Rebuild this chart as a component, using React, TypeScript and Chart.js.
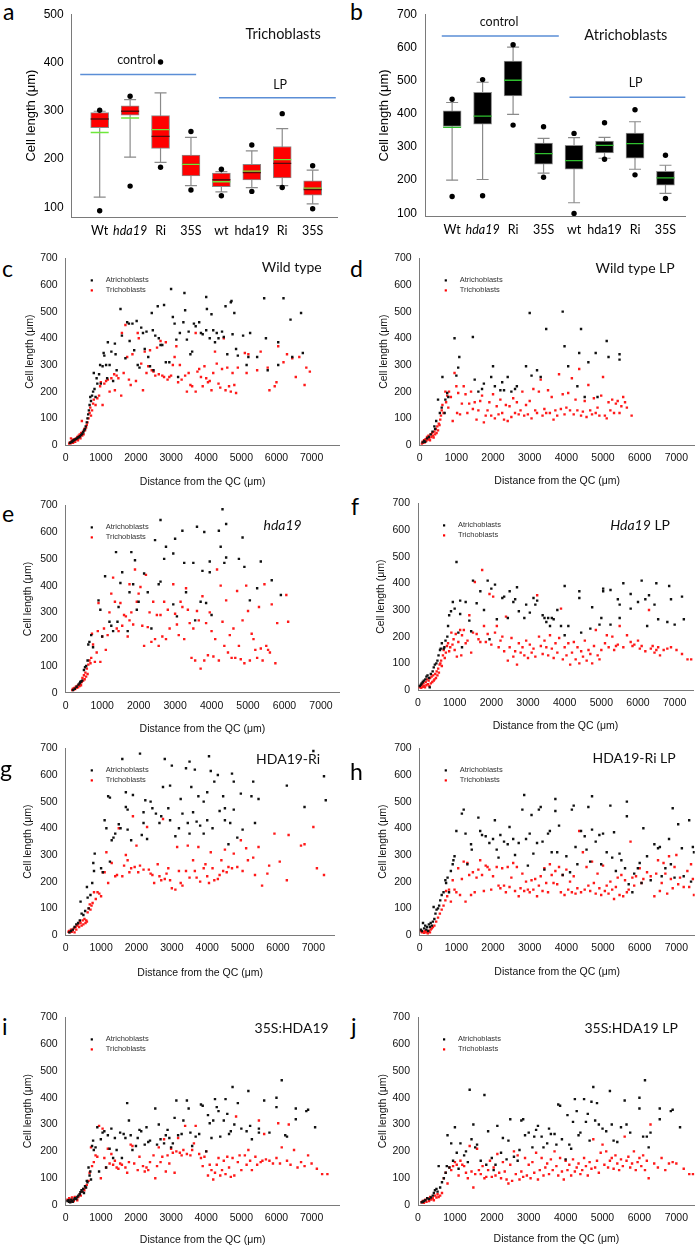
import React, { useEffect, useRef } from 'react';
import { Chart, registerables } from 'chart.js';

Chart.register(...registerables);

const SANS = '"Liberation Sans", Arial, sans-serif';
const CAL = 'Lato, "Open Sans", sans-serif';

// ---------- Box plots (a, b) ----------
const boxCategories = ['Wt', 'hda19', 'Ri', '35S', 'wt', 'hda19', 'Ri', '35S'];
const italicCategory = [false, true, false, false, false, false, false, false];
const trichoTicks = [100, 200, 300, 400, 500];
const atrichoTicks = [100, 200, 300, 400, 500, 600, 700];

// a: Trichoblasts
const trMin = [121, 204, 193, 145, 132, 141, 145, 107];
const trQ1 = [265, 291, 222, 165, 143, 157, 161, 125];
const trMedian = [283, 299, 247, 189, 157, 172, 191, 137];
const trQ3 = [296, 310, 290, 208, 171, 189, 226, 155];
const trMax = [299, 323, 337, 245, 174, 217, 263, 177];
const trMean = [255, 285, 261, 189, 153, 175, 199, 140];
const trOutHigh = [301, 330, 401, 257, 179, 229, 294, 186];
const trOutLow = [93, 144, 183, 136, 124, 133, 141, 97];
const trControlSpan = [-0.64, 3.17];
const trControlLevel = 375;
const trLpSpan = [3.92, 7.76];
const trLpLevel = 327;

// b: Atrichoblasts
const atMin = [200, 202, 398, 221, 132, 266, 233, 160];
const atQ1 = [362, 369, 454, 248, 233, 282, 266, 185];
const atMedian = [359, 393, 501, 280, 259, 305, 310, 207];
const atQ3 = [409, 465, 559, 312, 305, 318, 342, 227];
const atMax = [434, 495, 601, 326, 328, 329, 376, 245];
const atOutHigh = [444, 503, 608, 361, 341, 373, 412, 275];
const atOutLow = [151, 153, 366, 209, 100, 263, 216, 145];
const atControlSpan = [-0.34, 3.5];
const atControlLevel = 634;
const atLpSpan = [3.85, 7.66];
const atLpLevel = 450;

// ---------- Scatter plots (c - j) ----------
const scatterXTicks = [0, 1000, 2000, 3000, 4000, 5000, 6000, 7000];
const scatterYTicks = [0, 100, 200, 300, 400, 500, 600, 700];

// c: Wild type
const cAtri = [[120,8],[150,10],[180,12],[200,15],[230,18],[260,20],[290,22],[320,25],[350,28],[380,30],[410,33],[440,38],[470,42],[500,48],[520,55],[550,60],[570,70],[600,85],[620,100],[640,115],[660,130],[680,150],[700,180],[720,165],[750,185],[780,200],[800,270],[820,210],[850,180],[880,250],[900,230],[950,265],[980,300],[1000,230],[1050,295],[1080,345],[1100,335],[1150,300],[1180,250],[1200,385],[1250,300],[1300,350],[1350,240],[1400,380],[1420,340],[1450,280],[1560,510],[1600,410],[1700,325],[1750,460],[1800,455],[1820,390],[1900,455],[1950,355],[2020,465],[2050,300],[2100,290],[2150,440],[2200,420],[2250,360],[2300,425],[2350,330],[2400,295],[2450,495],[2480,430],[2500,280],[2550,410],[2620,520],[2650,400],[2700,375],[2750,375],[2800,525],[2850,310],[2950,310],[3000,585],[3050,480],[3100,455],[3150,395],[3200,255],[3250,420],[3350,460],[3380,570],[3400,505],[3450,395],[3500,425],[3550,340],[3600,350],[3650,455],[3700,445],[3800,460],[3850,420],[3900,415],[4000,555],[4000,430],[4020,510],[4100,400],[4150,490],[4200,430],[4250,385],[4300,420],[4350,400],[4450,425],[4500,405],[4550,520],[4600,340],[4700,535],[4720,540],[4750,415],[4800,495],[4850,360],[4900,335],[5050,410],[5150,300],[5200,330],[5250,420],[5450,330],[5650,550],[5700,400],[5750,280],[6050,385],[6050,300],[6200,550],[6400,470],[6450,330],[6700,495],[6750,345]];
const cTricho = [[100,5],[120,10],[140,6],[150,25],[160,12],[180,15],[200,20],[210,8],[230,18],[250,22],[270,12],[290,25],[310,20],[330,30],[350,18],[370,35],[390,28],[400,40],[420,25],[440,45],[460,90],[470,35],[490,50],[510,40],[530,60],[550,55],[580,65],[600,75],[620,85],[650,100],[680,120],[700,140],[720,110],[750,130],[780,155],[800,170],[850,150],[900,175],[950,185],[980,220],[1000,235],[1050,150],[1100,230],[1150,240],[1200,245],[1250,200],[1300,250],[1380,265],[1400,205],[1450,260],[1500,250],[1580,185],[1600,420],[1650,270],[1700,450],[1750,330],[1800,245],[1850,225],[1900,340],[2000,240],[2050,420],[2080,400],[2150,305],[2200,205],[2250,350],[2300,270],[2350,295],[2400,355],[2450,280],[2500,275],[2550,260],[2600,365],[2650,265],[2700,390],[2750,260],[2800,255],[2850,385],[2900,245],[2950,255],[3000,260],[3050,300],[3100,330],[3150,370],[3200,235],[3250,300],[3300,245],[3400,260],[3450,200],[3500,270],[3550,225],[3600,220],[3700,200],[3700,420],[3750,275],[3800,285],[3850,255],[3900,220],[3950,295],[4000,250],[4050,235],[4100,240],[4150,205],[4200,270],[4250,350],[4300,305],[4350,230],[4400,215],[4450,285],[4500,400],[4550,205],[4600,290],[4650,220],[4700,200],[4750,270],[4800,225],[4850,195],[4900,290],[5100,345],[5150,270],[5200,340],[5450,280],[5550,350],[5750,290],[5800,205],[5950,220],[6000,235],[6050,370],[6200,310],[6300,340],[6450,325],[6550,255],[6650,330],[6800,225],[6850,290],[6950,275]];

// d: Wild type LP
const dAtri = [[80,10],[120,15],[150,12],[200,25],[250,30],[300,40],[350,50],[400,70],[420,60],[450,90],[500,170],[550,120],[600,140],[620,255],[680,120],[700,170],[750,195],[780,180],[950,400],[1000,260],[1050,290],[1080,330],[1450,405],[1500,245],[1600,200],[1700,210],[1750,230],[1950,255],[2000,295],[2050,220],[2200,205],[2250,235],[2300,205],[2400,255],[2500,200],[2600,210],[2650,220],[2900,295],[3000,495],[3050,260],[3200,280],[3300,255],[3450,435],[3900,500],[3950,370],[4050,295],[4300,220],[4350,345],[4400,435],[4500,180],[4600,310],[4800,345],[4850,180],[5100,390],[5150,330],[5450,340],[5450,320]];
const dTricho = [[60,5],[80,12],[100,8],[120,18],[140,10],[160,22],[180,15],[200,30],[220,20],[240,35],[260,25],[280,18],[300,40],[320,30],[340,45],[360,35],[380,28],[400,50],[420,40],[440,60],[460,45],[480,70],[500,55],[520,80],[540,75],[560,95],[580,110],[600,130],[620,150],[650,120],[700,200],[720,160],[750,185],[780,140],[800,200],[850,180],[900,90],[950,270],[1000,220],[1020,120],[1050,195],[1100,115],[1150,155],[1200,220],[1250,190],[1300,120],[1350,155],[1400,200],[1450,135],[1500,160],[1550,95],[1600,130],[1650,165],[1700,185],[1750,85],[1800,110],[1850,130],[1900,160],[1950,110],[2000,190],[2050,100],[2100,145],[2150,115],[2200,170],[2250,120],[2300,95],[2350,150],[2400,90],[2450,145],[2500,105],[2550,175],[2600,120],[2650,160],[2700,115],[2750,130],[2800,200],[2850,110],[2900,150],[2950,115],[3000,165],[3050,100],[3100,210],[3150,130],[3200,120],[3250,200],[3300,245],[3350,110],[3400,135],[3450,120],[3500,205],[3550,120],[3600,180],[3650,95],[3700,130],[3750,110],[3800,265],[3850,135],[3900,190],[3950,115],[4000,140],[4050,195],[4100,130],[4150,250],[4200,115],[4250,170],[4300,130],[4350,285],[4400,110],[4450,125],[4500,165],[4550,105],[4600,225],[4650,130],[4700,115],[4750,175],[4800,120],[4850,140],[4900,110],[4950,185],[5000,255],[5050,110],[5100,100],[5150,160],[5200,130],[5250,170],[5300,120],[5350,155],[5400,165],[5450,120],[5500,145],[5550,180],[5600,160],[5650,140],[5780,110]];

// e: hda19
const eAtri = [[200,10],[250,15],[300,22],[350,30],[380,35],[400,40],[420,42],[450,45],[500,85],[530,95],[560,100],[600,120],[620,180],[650,190],[700,215],[750,170],[900,345],[950,310],[1000,210],[1080,435],[1200,265],[1250,250],[1300,230],[1380,525],[1420,265],[1450,320],[1500,410],[1550,450],[1700,230],[1750,375],[1800,525],[1850,405],[1900,495],[1950,310],[2000,340],[2150,445],[2250,375],[2350,240],[2450,570],[2550,405],[2600,415],[2600,645],[2700,500],[2750,545],[2950,520],[2950,330],[3000,575],[3050,285],[3200,605],[3250,485],[3300,375],[3500,485],[3550,270],[3600,620],[3700,340],[3750,455],[3800,600],[3850,335],[3950,490],[3950,450],[4000,290],[4200,605],[4250,545],[4300,685],[4350,485],[4400,630],[4400,505],[4750,500],[4850,580],[4900,470],[5050,345],[5250,390],[5350,490],[5650,420],[5900,365]];
const eTricho = [[180,10],[200,15],[220,12],[240,18],[260,14],[280,22],[300,18],[320,25],[340,20],[360,30],[380,25],[400,35],[420,28],[440,40],[460,55],[480,45],[500,65],[520,50],[540,75],[560,60],[580,90],[600,70],[620,105],[650,120],[680,110],[700,130],[720,220],[750,180],[800,115],[850,150],[880,230],[900,335],[950,115],[1000,210],[1050,240],[1100,160],[1150,215],[1200,300],[1250,370],[1300,430],[1350,340],[1400,240],[1450,230],[1500,335],[1550,250],[1600,290],[1650,285],[1700,210],[1750,405],[1750,270],[1800,300],[1850,255],[1900,460],[1950,340],[2000,370],[2050,395],[2100,250],[2150,175],[2200,440],[2250,245],[2300,300],[2350,190],[2400,340],[2450,200],[2500,290],[2550,175],[2600,290],[2650,210],[2700,340],[2750,200],[2800,310],[2850,240],[2950,405],[3000,295],[3050,255],[3100,215],[3150,340],[3200,320],[3250,200],[3300,390],[3350,310],[3400,260],[3450,130],[3500,240],[3550,120],[3600,305],[3650,270],[3700,90],[3750,360],[3800,120],[3850,260],[3900,140],[3950,300],[4000,230],[4050,135],[4100,200],[4150,460],[4200,120],[4250,400],[4300,265],[4350,175],[4400,345],[4450,150],[4500,215],[4550,130],[4600,240],[4650,130],[4700,380],[4750,175],[4800,125],[4850,270],[4900,110],[4950,400],[5000,305],[5050,120],[5100,220],[5150,200],[5200,160],[5250,130],[5300,320],[5350,165],[5400,120],[5450,405],[5500,175],[5550,160],[5600,150],[5650,330],[5750,110],[5800,260],[6050,365],[6100,265]];

// f: Hda19 LP
const fAtri = [[50,15],[80,20],[100,25],[130,30],[160,35],[200,40],[230,50],[260,55],[300,45],[320,10],[350,60],[400,70],[430,85],[460,95],[500,100],[530,110],[560,130],[600,150],[620,155],[650,175],[700,155],[720,160],[750,185],[800,200],[820,240],[850,280],[900,295],[950,330],[1000,305],[1050,480],[1100,215],[1150,335],[1150,285],[1200,160],[1300,330],[1400,260],[1450,220],[1500,410],[1600,325],[1700,370],[1800,300],[1900,410],[1950,190],[2000,380],[2100,395],[2150,265],[2300,345],[2350,350],[2450,270],[2500,370],[2600,330],[2650,340],[2700,385],[2750,295],[2900,270],[2950,320],[3050,290],[3150,345],[3200,320],[3250,335],[3400,280],[3450,270],[3500,255],[3550,270],[3600,240],[3650,270],[3700,265],[3800,300],[3900,240],[4000,390],[4000,205],[4100,240],[4400,370],[4400,345],[4450,215],[4700,230],[4750,310],[4950,245],[5000,270],[5050,380],[5050,370],[5250,375],[5250,245],[5450,340],[5500,320],[5500,270],[5600,400],[5800,305],[5800,360],[6000,330],[6100,410],[6200,340],[6250,240],[6300,355],[6450,320],[6500,400],[6550,265],[6800,255],[6850,390],[6900,340],[7000,245],[7200,350],[7250,265]];
const fTricho = [[50,10],[70,15],[90,8],[110,20],[130,12],[150,25],[170,15],[190,10],[210,30],[230,18],[250,40],[270,22],[290,35],[310,15],[330,45],[350,25],[370,50],[390,30],[410,55],[430,35],[450,40],[470,60],[490,45],[510,70],[530,55],[550,80],[570,65],[590,95],[610,100],[630,110],[650,90],[680,130],[700,150],[730,120],[760,140],[790,165],[820,175],[850,145],[880,160],[910,215],[940,170],[970,190],[1000,150],[1030,210],[1060,125],[1100,180],[1150,225],[1180,130],[1200,205],[1250,225],[1300,175],[1350,185],[1400,280],[1450,140],[1500,215],[1550,405],[1600,210],[1650,190],[1700,180],[1750,450],[1800,240],[1850,180],[1900,210],[1950,360],[2000,170],[2050,350],[2100,215],[2150,240],[2200,160],[2250,185],[2300,200],[2350,145],[2400,275],[2450,110],[2500,160],[2550,195],[2600,125],[2650,145],[2700,95],[2750,175],[2800,140],[2850,160],[2900,130],[2950,185],[3000,120],[3050,170],[3100,140],[3150,155],[3200,125],[3250,355],[3300,200],[3350,165],[3400,135],[3450,185],[3500,160],[3550,130],[3600,205],[3650,155],[3700,120],[3750,175],[3800,140],[3850,195],[3900,305],[3950,115],[4000,160],[4050,130],[4100,175],[4150,95],[4200,140],[4250,180],[4300,115],[4350,160],[4400,100],[4450,145],[4500,125],[4550,185],[4600,110],[4650,150],[4700,135],[4750,100],[4800,165],[4850,225],[4900,130],[4950,115],[5000,150],[5100,175],[5150,205],[5200,160],[5300,200],[5350,150],[5400,165],[5450,170],[5500,240],[5600,160],[5700,205],[5800,180],[5850,165],[5900,170],[6000,185],[6050,155],[6100,165],[6200,145],[6300,300],[6350,155],[6400,165],[6450,140],[6500,150],[6550,160],[6600,130],[6700,150],[6800,155],[6900,160],[7050,150],[7200,135],[7350,115],[7450,115]];

// g: HDA19-Ri
const gAtri = [[100,10],[150,15],[200,20],[250,30],[300,40],[350,45],[400,55],[420,125],[450,80],[500,75],[550,90],[600,180],[620,140],[650,100],[700,150],[750,195],[780,270],[800,240],[820,305],[1000,250],[1050,235],[1100,430],[1150,400],[1200,520],[1250,515],[1250,275],[1300,355],[1350,365],[1400,380],[1500,415],[1550,400],[1600,660],[1700,480],[1700,535],[1750,470],[1750,395],[1850,355],[1900,525],[2100,680],[2150,375],[2200,460],[2200,420],[2250,505],[2300,360],[2400,500],[2450,475],[2550,455],[2650,420],[2700,445],[2750,555],[2800,660],[2900,475],[2950,430],[2950,560],[3000,635],[3100,370],[3200,400],[3250,510],[3300,455],[3400,625],[3450,420],[3500,650],[3500,380],[3550,555],[3600,460],[3650,620],[3700,425],[3750,520],[3800,410],[3900,500],[3900,380],[4000,535],[4000,430],[4050,670],[4100,615],[4150,400],[4200,575],[4300,600],[4350,465],[4450,520],[4500,430],[4500,475],[4600,340],[4650,420],[4700,605],[4750,575],[4750,470],[4850,365],[4950,530],[5000,395],[5250,520],[5300,575],[5350,420],[5450,510],[6250,560],[6750,480],[7000,690],[7300,595],[7350,505]];
const gTricho = [[80,12],[100,15],[120,10],[150,20],[170,12],[200,18],[230,25],[250,10],[280,30],[300,20],[320,35],[350,40],[380,30],[400,50],[420,45],[450,35],[480,55],[500,40],[530,60],[560,45],[580,55],[600,50],[620,85],[650,100],[680,115],[700,95],[730,110],[760,120],[800,160],[850,135],[900,160],[950,155],[1000,145],[1050,235],[1100,235],[1150,310],[1200,195],[1300,270],[1400,220],[1450,225],[1500,400],[1600,220],[1650,260],[1700,300],[1750,280],[1800,235],[1850,250],[1900,445],[1950,255],[2000,335],[2050,235],[2100,260],[2200,245],[2300,405],[2350,245],[2400,230],[2450,225],[2500,195],[2600,265],[2650,220],[2700,205],[2750,435],[2800,210],[2850,230],[2900,250],[2950,205],[3000,175],[3100,170],[3150,330],[3200,240],[3250,195],[3300,185],[3400,240],[3450,335],[3500,215],[3600,280],[3650,240],[3700,215],[3750,330],[3800,200],[3900,250],[3950,265],[4000,220],[4050,195],[4100,310],[4150,250],[4200,205],[4300,210],[4350,225],[4400,280],[4450,240],[4500,320],[4550,235],[4600,255],[4700,250],[4750,305],[4850,255],[4950,355],[5000,240],[5100,325],[5150,280],[5300,290],[5350,225],[5450,330],[5550,185],[5700,230],[5750,260],[5900,380],[6050,275],[6250,205],[6300,375],[6650,335],[6750,340],[7000,405],[7100,250],[7300,225]];

// h: HDA19-Ri LP
const hAtri = [[30,20],[60,15],[90,45],[120,25],[150,35],[180,20],[200,30],[230,15],[250,40],[280,30],[300,45],[330,35],[360,50],[380,105],[400,60],[430,80],[460,95],[500,100],[530,110],[560,130],[600,150],[650,160],[700,205],[720,195],[760,215],[800,160],[850,240],[900,265],[920,280],[950,295],[1000,390],[1150,455],[1200,470],[1250,380],[1300,265],[1400,340],[1420,320],[1600,440],[1650,390],[1700,375],[1800,370],[1900,345],[2000,360],[2050,430],[2100,320],[2150,290],[2200,375],[2300,350],[2400,340],[2450,405],[2550,360],[2600,300],[2700,345],[2800,470],[2850,525],[2900,360],[2950,260],[3000,380],[3050,450],[3100,305],[3200,345],[3250,470],[3300,480],[3350,350],[3400,245],[3500,380],[3550,390],[3600,310],[3700,465],[3700,510],[3750,310],[3800,410],[3900,225],[4000,295],[4100,235],[4150,470],[4200,485],[4250,330],[4300,265],[4400,390],[4500,370],[4550,320],[4600,480],[4650,275],[4700,520],[4700,395],[4800,350],[4900,375],[4950,265],[5000,380],[5100,310],[5200,485],[5250,290],[5300,385],[5350,240],[5450,305],[5500,280],[5600,250],[5650,445],[5650,500],[5700,190],[5800,160],[5850,230],[5950,250],[6000,270],[6050,195],[6100,400],[6200,295],[6300,205],[6400,340],[6500,325],[6550,330],[6600,220],[6700,250],[6800,360],[6850,265],[6900,475],[6950,215],[7050,415],[7150,325],[7200,220],[7350,430],[7400,200],[7450,330],[7480,310]];
const hTricho = [[30,15],[60,10],[90,12],[120,8],[150,15],[180,10],[200,12],[220,6],[250,15],[280,10],[300,20],[330,25],[360,30],[400,35],[450,50],[500,65],[550,80],[600,95],[650,110],[700,130],[720,165],[750,145],[800,170],[850,125],[900,205],[950,170],[1000,160],[1050,250],[1100,150],[1150,210],[1200,275],[1250,125],[1300,270],[1350,225],[1400,150],[1450,235],[1500,160],[1550,215],[1600,245],[1650,280],[1700,225],[1750,165],[1800,260],[1850,255],[1900,245],[1950,170],[2000,220],[2100,255],[2150,185],[2200,175],[2250,250],[2300,185],[2350,160],[2400,255],[2450,180],[2500,215],[2550,270],[2600,165],[2650,255],[2700,145],[2750,175],[2800,230],[2850,165],[2900,200],[2950,170],[3000,160],[3050,205],[3100,170],[3150,210],[3200,145],[3250,185],[3300,220],[3350,165],[3400,250],[3450,195],[3500,160],[3550,265],[3600,225],[3650,195],[3700,240],[3750,190],[3800,255],[3850,160],[3900,225],[3950,150],[4000,245],[4050,170],[4100,200],[4150,160],[4200,220],[4250,155],[4300,175],[4350,390],[4400,160],[4450,310],[4500,170],[4550,255],[4600,185],[4650,165],[4700,275],[4750,195],[4800,155],[4850,230],[4900,175],[4950,150],[5000,260],[5050,165],[5100,185],[5150,155],[5200,200],[5250,170],[5300,135],[5350,180],[5400,215],[5450,150],[5500,225],[5550,145],[5600,205],[5650,160],[5700,170],[5750,350],[5800,215],[5850,185],[5900,220],[6000,250],[6050,195],[6100,210],[6200,235],[6300,220],[6400,145],[6450,230],[6500,280],[6550,165],[6600,195],[6650,270],[6700,230],[6750,155],[6800,295],[6850,210],[6900,175],[6950,255],[7000,300],[7050,190],[7100,215],[7200,180],[7300,240],[7350,180],[7400,265],[7450,210],[7480,150]];

// i: 35S:HDA19
const iAtri = [[50,15],[80,18],[100,12],[130,10],[150,20],[180,15],[200,12],[230,20],[260,25],[300,22],[330,30],[360,35],[400,40],[420,48],[450,55],[480,50],[500,60],[520,45],[550,70],[580,65],[600,90],[620,85],[650,140],[680,110],[700,125],[720,95],[750,220],[780,240],[800,205],[850,215],[900,290],[950,125],[1000,245],[1050,270],[1100,275],[1150,140],[1200,260],[1250,210],[1300,285],[1350,175],[1400,250],[1450,205],[1550,270],[1600,175],[1650,265],[1700,250],[1750,380],[1800,315],[1850,260],[1900,205],[2000,220],[2050,250],[2100,280],[2150,275],[2250,225],[2300,290],[2350,235],[2400,240],[2550,360],[2600,225],[2650,300],[2700,245],[2800,230],[2850,260],[2900,280],[2950,250],[3000,215],[3050,230],[3100,325],[3150,390],[3200,260],[3300,265],[3350,315],[3450,390],[3500,360],[3550,270],[3600,220],[3700,255],[3800,265],[3850,375],[3900,370],[4000,200],[4050,335],[4100,305],[4150,250],[4200,315],[4250,395],[4300,365],[4350,350],[4400,255],[4500,315],[4550,395],[4600,340],[4650,265],[4700,275],[4750,440],[4800,300],[4900,380],[5000,285],[5150,275],[5200,425],[5250,295],[5300,245],[5500,285],[5500,270],[5650,390],[5800,270],[6000,400],[6000,365],[6150,465],[6250,260],[6300,255],[6550,320],[6550,360],[6850,350],[6900,355],[7100,290]];
const iTricho = [[50,20],[80,15],[100,25],[130,18],[150,12],[180,28],[200,20],[230,15],[260,30],[300,25],[330,18],[360,30],[400,40],[430,35],[460,50],[500,60],[530,55],[560,65],[600,75],[650,90],[680,120],[720,215],[750,145],[800,160],[850,185],[900,180],[950,295],[1000,100],[1050,285],[1100,175],[1150,140],[1200,210],[1250,155],[1300,190],[1350,150],[1400,165],[1450,140],[1500,135],[1550,155],[1600,150],[1700,140],[1750,120],[1800,160],[1850,225],[1900,220],[1950,155],[2050,130],[2100,180],[2200,145],[2250,125],[2300,140],[2350,130],[2400,160],[2500,185],[2550,100],[2600,145],[2650,215],[2700,160],[2750,180],[2800,245],[2850,125],[2900,185],[2950,155],[3000,210],[3050,195],[3100,120],[3150,200],[3200,250],[3250,195],[3300,185],[3350,205],[3400,295],[3450,190],[3550,185],[3600,205],[3650,230],[3700,295],[3800,190],[3850,175],[3900,145],[3950,180],[4000,200],[4050,110],[4100,150],[4150,130],[4200,95],[4250,120],[4300,150],[4350,175],[4400,110],[4450,130],[4500,165],[4550,115],[4600,180],[4650,140],[4700,105],[4750,175],[4800,110],[4850,330],[4900,160],[4950,185],[5000,130],[5100,185],[5150,150],[5200,205],[5250,165],[5300,130],[5400,180],[5450,150],[5500,315],[5550,160],[5600,165],[5650,265],[5700,170],[5800,165],[5900,155],[6000,175],[6050,305],[6100,155],[6150,215],[6300,165],[6350,300],[6400,150],[6500,205],[6600,140],[6700,160],[6800,145],[6900,185],[7000,155],[7150,135],[7300,115],[7450,115]];

// j: 35S:HDA19 LP
const jAtri = [[100,10],[130,12],[160,15],[200,18],[250,25],[300,22],[350,28],[400,35],[430,45],[460,55],[500,60],[530,50],[560,145],[600,65],[650,85],[700,100],[750,120],[780,145],[800,260],[850,140],[900,230],[950,165],[1000,290],[1050,195],[1100,135],[1150,230],[1250,185],[1300,200],[1350,160],[1400,430],[1450,245],[1500,300],[1550,215],[1600,225],[1700,165],[1800,410],[1850,150],[1900,275],[2000,175],[2050,130],[2100,150],[2150,295],[2250,195],[2300,250],[2400,170],[2450,240],[2500,320],[2600,180],[2700,165],[2750,205],[2800,315],[2850,320],[2900,260],[3000,270],[3100,215],[3150,255],[3200,280],[3250,295],[3350,255],[3400,215],[3500,230],[3550,285],[3600,265],[3700,265],[3750,225],[3800,375],[3850,370],[3900,245],[4000,170],[4050,335],[4100,225],[4150,210],[4200,310],[4250,395],[4300,350],[4350,260],[4400,270],[4500,395],[4550,310],[4600,340],[4650,240],[4700,385],[4750,440],[4800,315],[4850,380],[4900,300],[5000,285],[5100,275],[5200,425],[5250,300],[5300,240],[5400,235],[5500,290],[5600,390],[5650,300],[5750,270],[6000,400],[6000,360],[6100,255],[6150,465],[6200,255],[6250,215],[6300,270],[6550,320],[6550,360],[6850,350],[6900,355],[7100,290]];
const jTricho = [[100,10],[130,15],[160,8],[200,20],[230,12],[260,25],[300,15],[330,30],[360,20],[400,25],[430,18],[460,35],[500,28],[530,40],[560,30],[600,35],[650,45],[700,100],[750,120],[800,80],[850,140],[900,130],[950,145],[1000,160],[1050,150],[1100,110],[1150,165],[1200,150],[1250,145],[1300,120],[1350,100],[1400,220],[1450,125],[1500,65],[1550,115],[1600,210],[1650,130],[1700,115],[1750,145],[1800,100],[1850,105],[1900,130],[1950,165],[2000,105],[2050,140],[2100,110],[2150,190],[2200,120],[2250,100],[2300,160],[2350,125],[2400,95],[2450,80],[2500,150],[2550,90],[2600,200],[2650,115],[2700,185],[2750,95],[2800,125],[2850,105],[2900,175],[2950,110],[3000,150],[3050,100],[3100,160],[3150,120],[3200,195],[3250,95],[3300,130],[3350,175],[3400,110],[3450,140],[3500,155],[3550,115],[3600,170],[3650,130],[3700,200],[3750,145],[3800,110],[3850,175],[3900,125],[3950,95],[4000,165],[4050,130],[4100,150],[4150,110],[4200,170],[4250,125],[4300,140],[4350,155],[4400,115],[4450,130],[4500,175],[4550,145],[4600,110],[4650,160],[4700,135],[4750,245],[4800,140],[4850,165],[4900,120],[4950,195],[5000,225],[5050,150],[5100,200],[5150,140],[5200,165],[5250,175],[5300,135],[5350,185],[5400,155],[5450,130],[5500,170],[5550,145],[5600,255],[5650,165],[5700,180],[5750,140],[5800,155],[5850,200],[5900,130],[5950,160],[6000,175],[6050,145],[6100,185],[6150,130],[6200,165],[6250,100],[6300,300],[6400,155],[6500,140],[6600,175],[6700,130],[6800,155],[6900,160],[7000,155],[7200,135],[7350,115],[7450,115]];

// ---------- layout helpers ----------
type Geo = { L: number; R: number; T: number; B: number; yTitleX: number; titleSize: number; xTitleY?: number; bottomSpace?: number };

function place(g: Geo) {
  const half = (g.titleSize * 1.2) / 2;
  const left = Math.round(g.yTitleX - half);
  const top = Math.round(g.T - 8);
  const W = Math.ceil(g.R - left + 8);
  const bottom = g.xTitleY !== undefined ? g.xTitleY + half : g.B + (g.bottomSpace ?? 26);
  const H = Math.ceil(bottom - top);
  return { left, top, W, H, yW: g.L - left, xH: H - (g.B - top), padTop: g.T - top, padRight: W - (g.R - left) };
}

type Part = { t: string; italic?: boolean };
type Ann = {
  parts?: Part[];
  marker?: string;
  x: number;
  y: number;
  space: 'data' | 'tr' | 'tl';
  size?: number;
  family?: string;
  color?: string;
  align?: 'left' | 'center' | 'right';
};

function annotPlugin(items: Ann[]) {
  return {
    id: 'annot',
    afterDatasetsDraw(chart: any) {
      const ctx = chart.ctx as CanvasRenderingContext2D;
      const a = chart.chartArea;
      const xs = chart.scales.x;
      const ys = chart.scales.y;
      ctx.save();
      for (const it of items) {
        let px: number;
        let py: number;
        if (it.space === 'data') {
          px = xs.getPixelForValue(it.x);
          py = ys.getPixelForValue(it.y);
        } else if (it.space === 'tr') {
          px = a.right - it.x;
          py = a.top + it.y;
        } else {
          px = a.left + it.x;
          py = a.top + it.y;
        }
        if (it.marker) {
          ctx.fillStyle = it.marker;
          ctx.fillRect(px - 1, py - 1, 2.2, 2.2);
          continue;
        }
        const parts = it.parts || [];
        const size = it.size || 10;
        const fam = it.family || SANS;
        const fonts = parts.map((p) => `${p.italic ? 'italic ' : ''}${size}px ${fam}`);
        const widths = parts.map((p, k) => {
          ctx.font = fonts[k];
          return ctx.measureText(p.t).width;
        });
        const total = widths.reduce((s, w) => s + w, 0);
        let x = it.align === 'center' ? px - total / 2 : it.align === 'right' ? px - total : px;
        ctx.fillStyle = it.color || '#000';
        ctx.textAlign = 'left';
        ctx.textBaseline = 'middle';
        parts.forEach((p, k) => {
          ctx.font = fonts[k];
          ctx.fillText(p.t, x, py);
          x += widths[k];
        });
      }
      ctx.restore();
    },
  };
}

function baseOptions(pl: ReturnType<typeof place>) {
  return {
    animation: false,
    responsive: false,
    maintainAspectRatio: false,
    events: [],
    layout: { padding: { top: pl.padTop, right: pl.padRight, left: 0, bottom: 0 } },
    plugins: { legend: { display: false }, tooltip: { enabled: false }, title: { display: false } },
  };
}

// ---------- box plot config ----------
type BoxSpec = {
  geo: Geo;
  xMin: number;
  xMax: number;
  yMin: number;
  yMax: number;
  yTicks: number[];
  lo: number[];
  q1: number[];
  med: number[];
  q3: number[];
  hi: number[];
  mean?: number[];
  outHigh: number[];
  outLow: number[];
  boxColor: string;
  medColor: string;
  meanColor?: string;
  ctrlSpan: number[];
  ctrlLevel: number;
  lpSpan: number[];
  lpLevel: number;
  texts: Ann[];
};

function boxConfig(s: BoxSpec, pl: ReturnType<typeof place>) {
  const gray = '#8a8a8a';
  const idx = boxCategories.map((_, i) => i);
  const datasets: any[] = [
    {
      type: 'line',
      data: idx.flatMap((i) => [{ x: i, y: s.lo[i] }, { x: i, y: s.hi[i] }, { x: i, y: null }]),
      borderColor: gray,
      borderWidth: 1.2,
      pointRadius: 0,
      spanGaps: false,
      order: 10,
    },
    {
      type: 'scatter',
      data: idx.flatMap((i) => [{ x: i, y: s.lo[i] }, { x: i, y: s.hi[i] }]),
      pointStyle: 'line',
      pointRadius: 6,
      borderColor: gray,
      borderWidth: 1.2,
      order: 9,
    },
    {
      type: 'bar',
      data: idx.map((i) => ({ x: i, y: [s.q1[i], s.q3[i]] })),
      backgroundColor: s.boxColor,
      borderColor: gray,
      borderWidth: 1,
      borderSkipped: false,
      barThickness: 18,
      order: 8,
    },
  ];
  if (s.mean && s.meanColor) {
    datasets.push({
      type: 'scatter',
      data: idx.map((i) => ({ x: i, y: s.mean![i] })),
      pointStyle: 'line',
      pointRadius: 9,
      borderColor: s.meanColor,
      borderWidth: 1.3,
      order: 5,
    });
  }
  datasets.push(
    {
      type: 'scatter',
      data: idx.map((i) => ({ x: i, y: s.med[i] })),
      pointStyle: 'line',
      pointRadius: 9,
      borderColor: s.medColor,
      borderWidth: 1.4,
      order: 6,
    },
    {
      type: 'scatter',
      data: idx.flatMap((i) => [{ x: i, y: s.outHigh[i] }, { x: i, y: s.outLow[i] }]),
      pointRadius: 2.7,
      backgroundColor: '#000',
      borderWidth: 0,
      order: 4,
    },
    {
      type: 'line',
      data: [
        { x: s.ctrlSpan[0], y: s.ctrlLevel },
        { x: s.ctrlSpan[1], y: s.ctrlLevel },
        { x: s.ctrlSpan[1], y: null },
        { x: s.lpSpan[0], y: s.lpLevel },
        { x: s.lpSpan[1], y: s.lpLevel },
      ],
      borderColor: '#5b8ed6',
      borderWidth: 1.5,
      pointRadius: 0,
      spanGaps: false,
      order: 3,
    }
  );
  return {
    type: 'bar',
    data: { datasets },
    options: {
      ...baseOptions(pl),
      scales: {
        x: {
          type: 'linear',
          min: s.xMin,
          max: s.xMax,
          offset: false,
          afterBuildTicks: (sc: any) => {
            sc.ticks = idx.map((i) => ({ value: i }));
          },
          afterFit: (sc: any) => {
            sc.height = pl.xH;
          },
          grid: { display: false, drawTicks: false, offset: false },
          border: { display: true, color: '#7a7a7a', width: 1 },
          ticks: {
            padding: 6,
            color: '#000',
            autoSkip: false,
            maxRotation: 0,
            callback: (v: number) => boxCategories[v] ?? '',
            font: (c: any) => ({ family: CAL, size: 12.5, style: italicCategory[c.index] ? 'italic' : 'normal' }),
          },
        },
        y: {
          type: 'linear',
          min: s.yMin,
          max: s.yMax,
          afterBuildTicks: (sc: any) => {
            sc.ticks = s.yTicks.map((v) => ({ value: v }));
          },
          afterFit: (sc: any) => {
            sc.width = pl.yW;
          },
          grid: { display: false, drawTicks: false },
          border: { display: true, color: '#7a7a7a', width: 1 },
          ticks: { padding: 8, color: '#000', callback: (v: number) => String(v), font: { family: SANS, size: 12 } },
          title: { display: true, text: 'Cell length (μm)', color: '#000', padding: 0, font: { family: SANS, size: s.geo.titleSize } },
        },
      },
    },
    plugins: [annotPlugin(s.texts)],
  };
}

// ---------- scatter config ----------
type ScatterSpec = {
  geo: Geo;
  xMax: number;
  atri: number[][];
  tricho: number[][];
  title: Part[];
  titleDx: number;
  titleDy: number;
};

function scatterConfig(s: ScatterSpec, pl: ReturnType<typeof place>) {
  const axisFont = { family: SANS, size: 10.5 };
  const texts: Ann[] = [
    { parts: s.title, x: s.titleDx, y: s.titleDy, space: 'tr', size: 14, family: CAL, align: 'right', color: '#111' },
    { marker: '#000', x: 26, y: 22, space: 'tl' },
    { marker: '#ff0000', x: 26, y: 32, space: 'tl' },
    { parts: [{ t: 'Atrichoblasts' }], x: 40, y: 22, space: 'tl', size: 7.5, color: '#333', align: 'left' },
    { parts: [{ t: 'Trichoblasts' }], x: 40, y: 32, space: 'tl', size: 7.5, color: '#333', align: 'left' },
  ];
  return {
    type: 'scatter',
    data: {
      datasets: [
        {
          data: s.tricho.map((p) => ({ x: p[0], y: p[1] })),
          backgroundColor: '#ff1a1a',
          borderWidth: 0,
          pointRadius: 1.7,
          pointStyle: 'rect',
          order: 2,
        },
        {
          data: s.atri.map((p) => ({ x: p[0], y: p[1] })),
          backgroundColor: '#111',
          borderWidth: 0,
          pointRadius: 1.7,
          pointStyle: 'rect',
          order: 1,
        },
      ],
    },
    options: {
      ...baseOptions(pl),
      scales: {
        x: {
          type: 'linear',
          min: 0,
          max: s.xMax,
          afterBuildTicks: (sc: any) => {
            sc.ticks = scatterXTicks.map((v) => ({ value: v }));
          },
          afterFit: (sc: any) => {
            sc.height = pl.xH;
          },
          grid: { display: false, drawTicks: false },
          border: { display: true, color: '#7a7a7a', width: 1 },
          ticks: { padding: 7, color: '#111', autoSkip: false, maxRotation: 0, callback: (v: number) => String(v), font: axisFont },
          title: { display: true, text: 'Distance from the QC (μm)', color: '#111', padding: 0, font: axisFont },
        },
        y: {
          type: 'linear',
          min: 0,
          max: 700,
          afterBuildTicks: (sc: any) => {
            sc.ticks = scatterYTicks.map((v) => ({ value: v }));
          },
          afterFit: (sc: any) => {
            sc.width = pl.yW;
          },
          grid: { display: false, drawTicks: false },
          border: { display: true, color: '#7a7a7a', width: 1 },
          ticks: { padding: 8, color: '#111', callback: (v: number) => String(v), font: axisFont },
          title: { display: true, text: 'Cell length (μm)', color: '#111', padding: 0, font: axisFont },
        },
      },
    },
    plugins: [annotPlugin(texts)],
  };
}

// ---------- panel specs ----------
const boxA: BoxSpec = {
  geo: { L: 71.7, R: 340, T: 7, B: 217, yTitleX: 31.7, titleSize: 13 },
  xMin: -0.92,
  xMax: 7.82,
  yMin: 80,
  yMax: 500,
  yTicks: trichoTicks,
  lo: trMin,
  q1: trQ1,
  med: trMedian,
  q3: trQ3,
  hi: trMax,
  mean: trMean,
  outHigh: trOutHigh,
  outLow: trOutLow,
  boxColor: '#ff0000',
  medColor: '#5a0a0a',
  meanColor: '#6ee83a',
  ctrlSpan: trControlSpan,
  ctrlLevel: trControlLevel,
  lpSpan: trLpSpan,
  lpLevel: trLpLevel,
  texts: [
    { parts: [{ t: 'control' }], x: 1.21, y: 405, space: 'data', size: 12.5, family: CAL, align: 'center', color: '#111' },
    { parts: [{ t: 'LP' }], x: 5.93, y: 353, space: 'data', size: 12.5, family: CAL, align: 'center', color: '#111' },
    { parts: [{ t: 'Trichoblasts' }], x: 6.03, y: 458, space: 'data', size: 14.5, family: CAL, align: 'center', color: '#111' },
  ],
};

const boxB: BoxSpec = {
  geo: { L: 425, R: 688, T: 6.7, B: 216.7, yTitleX: 384.7, titleSize: 13 },
  xMin: -0.89,
  xMax: 7.66,
  yMin: 90,
  yMax: 700,
  yTicks: atrichoTicks,
  lo: atMin,
  q1: atQ1,
  med: atMedian,
  q3: atQ3,
  hi: atMax,
  outHigh: atOutHigh,
  outLow: atOutLow,
  boxColor: '#000000',
  medColor: '#2fbf2f',
  ctrlSpan: atControlSpan,
  ctrlLevel: atControlLevel,
  lpSpan: atLpSpan,
  lpLevel: atLpLevel,
  texts: [
    { parts: [{ t: 'control' }], x: 1.54, y: 676, space: 'data', size: 12.5, family: CAL, align: 'center', color: '#111' },
    { parts: [{ t: 'LP' }], x: 6.02, y: 493, space: 'data', size: 12.5, family: CAL, align: 'center', color: '#111' },
    { parts: [{ t: 'Atrichoblasts' }], x: 5.7, y: 637, space: 'data', size: 14.5, family: CAL, align: 'center', color: '#111' },
  ],
};

const scatterSpecs: ScatterSpec[] = [
  { geo: { L: 65.7, R: 339.7, T: 251.7, B: 445, yTitleX: 30, xTitleY: 481.7, titleSize: 10.5 }, xMax: 7800, atri: cAtri, tricho: cTricho, title: [{ t: 'Wild type' }], titleDx: 18, titleDy: 9.5 },
  { geo: { L: 419.7, R: 694.7, T: 251.7, B: 445, yTitleX: 384.7, xTitleY: 480, titleSize: 10.5 }, xMax: 7500, atri: dAtri, tricho: dTricho, title: [{ t: 'Wild type LP' }], titleDx: 20, titleDy: 10 },
  { geo: { L: 65.7, R: 339.2, T: 499.3, B: 692.7, yTitleX: 28.3, xTitleY: 728.3, titleSize: 10.5 }, xMax: 7500, atri: eAtri, tricho: eTricho, title: [{ t: 'hda19', italic: true }], titleDx: 37.5, titleDy: 20 },
  { geo: { L: 418, R: 693, T: 496.7, B: 690, yTitleX: 381.3, xTitleY: 725, titleSize: 10.5 }, xMax: 7500, atri: fAtri, tricho: fTricho, title: [{ t: 'Hda19', italic: true }, { t: ' LP' }], titleDx: 23, titleDy: 22.6 },
  { geo: { L: 65.7, R: 334.6, T: 741.7, B: 935, yTitleX: 28.3, xTitleY: 972.3, titleSize: 10.5 }, xMax: 7600, atri: gAtri, tricho: gTricho, title: [{ t: 'HDA19-Ri' }], titleDx: 14.5, titleDy: 11.6 },
  { geo: { L: 419.7, R: 694.7, T: 741.7, B: 935, yTitleX: 383, xTitleY: 971.7, titleSize: 10.5 }, xMax: 7500, atri: hAtri, tricho: hTricho, title: [{ t: 'HDA19-Ri LP' }], titleDx: 19, titleDy: 10 },
  { geo: { L: 65.7, R: 339.7, T: 1010.7, B: 1205, yTitleX: 28.3, xTitleY: 1239.3, titleSize: 10.5 }, xMax: 7800, atri: iAtri, tricho: iTricho, title: [{ t: '35S:HDA19' }], titleDx: 11, titleDy: 11 },
  { geo: { L: 418, R: 694.8, T: 1010.7, B: 1205, yTitleX: 383, xTitleY: 1238.3, titleSize: 10.5 }, xMax: 7500, atri: jAtri, tricho: jTricho, title: [{ t: '35S:HDA19 LP' }], titleDx: 17, titleDy: 11 },
];

const panelLetters = [
  { t: 'a', x: 3, base: 20 },
  { t: 'b', x: 350, base: 20 },
  { t: 'c', x: 2, base: 277 },
  { t: 'd', x: 350, base: 277 },
  { t: 'e', x: 2, base: 522 },
  { t: 'f', x: 351, base: 515 },
  { t: 'g', x: 0, base: 777 },
  { t: 'h', x: 350, base: 780 },
  { t: 'i', x: 2, base: 1035 },
  { t: 'j', x: 351, base: 1035 },
];

function ChartCanvas({ geo, build }: { geo: Geo; build: (pl: ReturnType<typeof place>) => any }) {
  const ref = useRef<HTMLCanvasElement>(null);
  const pl = place(geo);
  useEffect(() => {
    const chart = new Chart(ref.current as HTMLCanvasElement, build(pl));
    return () => chart.destroy();
  }, []);
  return (
    <canvas
      ref={ref}
      width={pl.W}
      height={pl.H}
      style={{ position: 'absolute', left: pl.left, top: pl.top, width: pl.W, height: pl.H }}
    />
  );
}

export default function App() {
  return (
    <div style={{ position: 'absolute', left: 0, top: 0, width: 697, height: 1247, background: '#fff', overflow: 'hidden' }}>
      <ChartCanvas geo={boxA.geo} build={(pl) => boxConfig(boxA, pl)} />
      <ChartCanvas geo={boxB.geo} build={(pl) => boxConfig(boxB, pl)} />
      {scatterSpecs.map((s, k) => (
        <ChartCanvas key={k} geo={s.geo} build={(pl) => scatterConfig(s, pl)} />
      ))}
      {panelLetters.map((l) => (
        <div
          key={l.t}
          style={{
            position: 'absolute',
            left: l.x,
            top: l.base - 18.9,
            fontFamily: CAL,
            fontSize: 23,
            lineHeight: '20px',
            color: '#000',
          }}
        >
          {l.t}
        </div>
      ))}
    </div>
  );
}
